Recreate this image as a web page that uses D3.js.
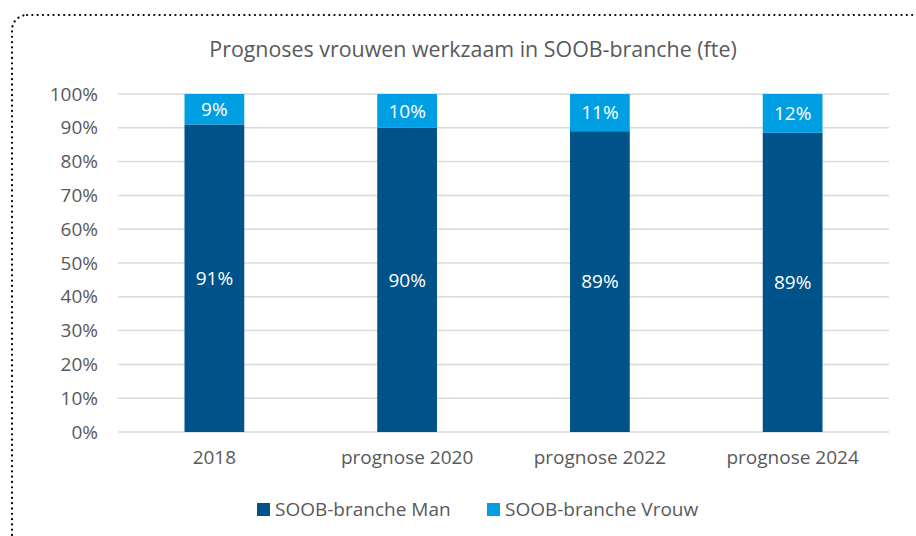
<!DOCTYPE html>
<html>
<head>
<meta charset="utf-8">
<script src="https://cdn.jsdelivr.net/npm/d3@7"></script>
<style>
  body { margin: 0; background: #fff; }
  svg { display: block; font-family: "Open Sans", sans-serif; }
</style>
</head>
<body>
<svg id="canvas" width="916" height="536"></svg>
<script>
const categories = ['2018', 'prognose 2020', 'prognose 2022', 'prognose 2024'];
const manValues = [91, 90, 89, 88.5];
const vrouwValues = [9, 10, 11, 11.5];
const seriesNames = ['SOOB-branche Man', 'SOOB-branche Vrouw'];
const yTicks = [0, 10, 20, 30, 40, 50, 60, 70, 80, 90, 100];

const colors = ['#00538a', '#009fe3'];
const textColor = '#595959';
const font = '"Open Sans", sans-serif';

const svg = d3.select('#canvas');

// dotted frame, only the top-left corner is visible
svg.append('rect')
  .attr('x', 12).attr('y', 15)
  .attr('width', 960).attr('height', 600)
  .attr('rx', 15)
  .attr('fill', 'none')
  .attr('stroke', '#000')
  .attr('stroke-width', 2.2)
  .attr('stroke-linecap', 'round')
  .attr('stroke-dasharray', '0.1 5.2');

svg.append('text')
  .attr('x', 473).attr('y', 57)
  .attr('text-anchor', 'middle')
  .attr('fill', textColor)
  .attr('font-size', 21.4)
  .text('Prognoses vrouwen werkzaam in SOOB-branche (fte)');

const margin = { left: 118, right: 27, top: 94, bottom: 104 };
const width = 916 - margin.left - margin.right;
const height = 536 - margin.top - margin.bottom;

const g = svg.append('g').attr('transform', `translate(${margin.left},${margin.top})`);

const x = d3.scaleBand().domain(categories).range([0, width]).paddingInner(0.69).paddingOuter(0.345);
const y = d3.scaleLinear().domain([0, 100]).range([height, 0]);

// gridlines
g.append('g')
  .selectAll('line')
  .data(yTicks)
  .enter().append('line')
  .attr('x1', 0).attr('x2', width)
  .attr('y1', d => y(d)).attr('y2', d => y(d))
  .attr('stroke', '#d9d9d9')
  .attr('stroke-width', 1.5);

const yAxis = g.append('g')
  .call(d3.axisLeft(y).tickValues(yTicks).tickFormat(d => d + '%').tickSize(0).tickPadding(20));
yAxis.select('.domain').remove();
yAxis.selectAll('text').attr('fill', textColor).attr('font-size', 19).attr('font-family', font);

const xAxis = g.append('g')
  .attr('transform', `translate(0,${height})`)
  .call(d3.axisBottom(x).tickSize(0).tickPadding(19));
xAxis.select('.domain').remove();
xAxis.selectAll('text').attr('fill', textColor).attr('font-size', 19).attr('font-family', font);

const table = categories.map((c, i) => ({ category: c, man: manValues[i], vrouw: vrouwValues[i] }));
const stacked = d3.stack().keys(['man', 'vrouw'])(table);

const layer = g.selectAll('.layer')
  .data(stacked)
  .enter().append('g')
  .attr('class', 'layer')
  .attr('fill', (d, i) => colors[i]);

layer.selectAll('rect')
  .data(d => d)
  .enter().append('rect')
  .attr('x', d => x(d.data.category))
  .attr('y', d => y(d[1]))
  .attr('width', x.bandwidth())
  .attr('height', d => y(d[0]) - y(d[1]));

layer.selectAll('text')
  .data(d => d)
  .enter().append('text')
  .attr('x', d => x(d.data.category) + x.bandwidth() / 2)
  .attr('y', d => (y(d[0]) + y(d[1])) / 2)
  .attr('dy', '0.35em')
  .attr('text-anchor', 'middle')
  .attr('fill', '#fff')
  .attr('font-size', 19)
  .text(d => Math.round(d[1] - d[0]) + '%');

// legend
const legendX = [257, 487];
const legend = svg.append('g')
  .selectAll('g')
  .data(seriesNames)
  .enter().append('g')
  .attr('transform', (d, i) => `translate(${legendX[i]},503)`);

legend.append('rect')
  .attr('width', 13).attr('height', 13)
  .attr('fill', (d, i) => colors[i]);

legend.append('text')
  .attr('x', 18).attr('y', 6.5)
  .attr('dy', '0.35em')
  .attr('fill', textColor)
  .attr('font-size', 19)
  .text(d => d);
</script>
</body>
</html>
